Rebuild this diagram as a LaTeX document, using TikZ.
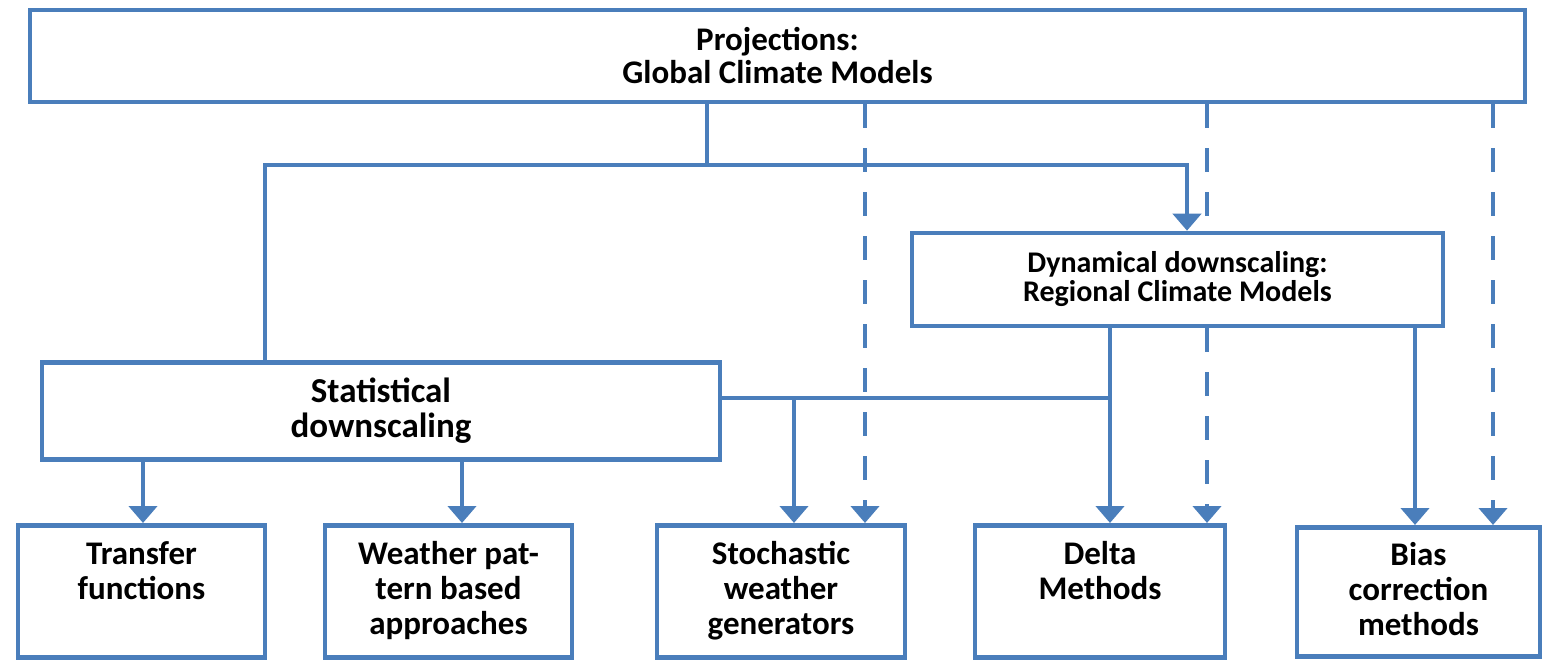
\documentclass[tikz,border=0pt]{standalone}
\usepackage{fontspec}
\setmainfont{Carlito}
\usetikzlibrary{arrows.meta}
\definecolor{boxblue}{HTML}{4A7EBB}

\begin{document}
\begin{tikzpicture}[x=1pt, y=-1pt, line width=4.6pt,
    box/.style={draw=boxblue, fill=white, inner sep=0pt, align=flush center, font=\bfseries\fontsize{30}{29}\selectfont},
    topbox/.style={box, font=\bfseries\fontsize{33}{33}\selectfont},
    midbox/.style={box, font=\bfseries\fontsize{35}{35}\selectfont},
    leaf/.style={box, anchor=north, font=\bfseries\fontsize{33}{35}\selectfont, text width=#1, text height=39pt, text depth=93pt},
    link/.style={draw=boxblue, -{Triangle[width=28pt, length=17pt]}},
    plain/.style={draw=boxblue},
    hint/.style={draw=boxblue, dash pattern=on 24pt off 20pt},
    hintlink/.style={hint, -{Triangle[width=28pt, length=17pt]}}]
    \useasboundingbox (0,0) rectangle (1542,659);

    \node[topbox, minimum width=1495pt, minimum height=92pt] (gcm) at (777.5,56) {Projections:\\Global Climate Models};
    \node[box, minimum width=531pt, minimum height=93pt] (rcm) at (1177.5,279.5) {Dynamical downscaling:\\Regional Climate Models};
    \node[midbox, minimum width=678pt, minimum height=97pt] (stat) at (381,411) {Statistical\\downscaling};

    \node[leaf=247pt] (trans) at (141.5,523) {Transfer\\functions};
    \node[leaf=247pt] (pattern) at (448.5,523) {Weather pat-\\tern based\\approaches};
    \node[leaf=248pt] (stoch) at (781,523) {Stochastic\\weather\\generators};
    \node[leaf=250pt] (delta) at (1100,523) {Delta\\Methods};
    \node[leaf=243pt, text height=38pt, text depth=91pt] (bias) at (1418.5,525) {Bias\\correction\\methods};

    \coordinate (split) at (707,165);
    \coordinate (jl) at (265,165);
    \coordinate (jr) at (1187,165);
    \coordinate (ja) at (865,0);
    \coordinate (jb) at (1207,0);
    \coordinate (jc) at (1493,0);
    \coordinate (join) at (1110,398);
    \coordinate (js) at (794,398);
    \coordinate (jbias) at (1415,0);
    \coordinate (jt) at (143,0);
    \coordinate (jp) at (462,0);

    \draw[hintlink] (gcm.south -| ja) -- (stoch.north -| ja);
    \draw[hint] (gcm.south -| jb) -- (rcm.north -| jb);
    \draw[hintlink] (rcm.south -| jb) -- (delta.north -| jb);
    \draw[hintlink] (gcm.south -| jc) -- (bias.north -| jc);

    \draw[plain] (gcm.south -| split) -- (split);
    \draw[link] (stat.north -| jl) |- (jr) -- (rcm.north -| jr);

    \draw[link] (rcm.south -| join) -- (delta.north -| join);
    \draw[plain] (stat.east |- join) -- (join);
    \draw[link] (js) -- (stoch.north -| js);
    \draw[link] (rcm.south -| jbias) -- (bias.north -| jbias);

    \draw[link] (stat.south -| jt) -- (trans.north -| jt);
    \draw[link] (stat.south -| jp) -- (pattern.north -| jp);
\end{tikzpicture}
\end{document}
